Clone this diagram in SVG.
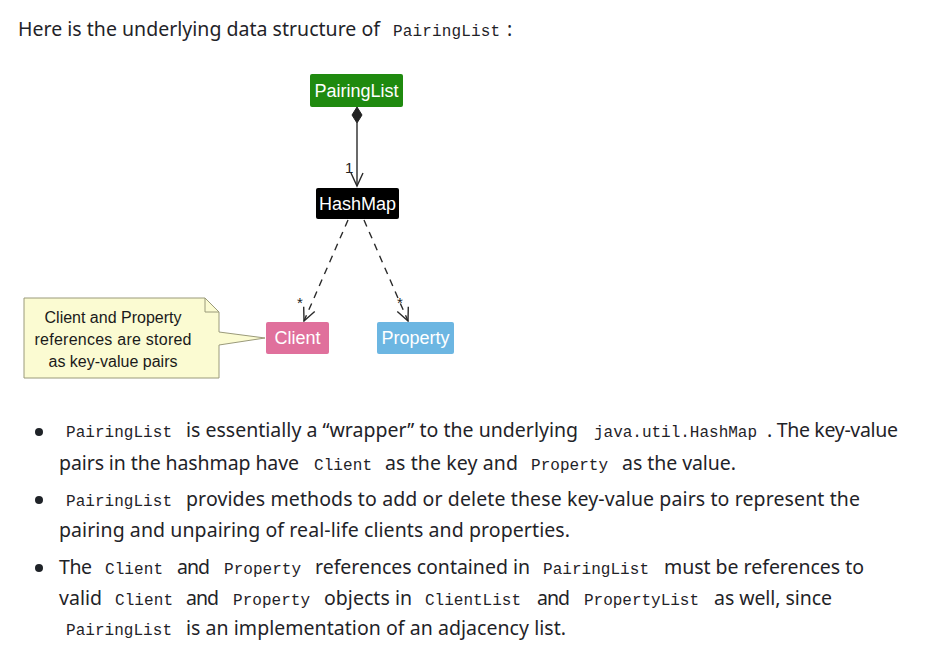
<svg xmlns="http://www.w3.org/2000/svg" width="932" height="658" viewBox="0 0 932 658">
<style>
.t{font-family:"Noto Sans","Open Sans",sans-serif;font-size:19.5px;fill:#1f2328}
.m{font-family:"Liberation Mono","DejaVu Sans Mono",monospace;font-size:16px;fill:#1f2328}
.nl{font-family:"Liberation Sans",Arial,sans-serif;font-size:18px;fill:#ffffff;text-anchor:middle}
.nt{font-family:"Liberation Sans",Arial,sans-serif;font-size:16px;fill:#1a1a1a;text-anchor:middle}
.lbl{font-family:"Liberation Sans",Arial,sans-serif;font-size:15px;fill:#222222}
.ln{stroke:#2a2a2a;stroke-width:1.4;fill:none}
.dash{stroke-dasharray:7 6}
</style>
<rect width="932" height="658" fill="#ffffff"/>
<g id="intro">
<text class="t" x="18" y="36" textLength="362">Here is the underlying data structure of</text>
<text class="m" x="393" y="36" textLength="107">PairingList</text>
<text class="t" x="507" y="36">:</text>
</g>
<g id="connectors">
<path class="ln" d="M357,123 L357,186"/>
<path d="M357,107 L362,115 L357,123 L352,115 Z" fill="#222" stroke="#222" stroke-width="1"/>
<path class="ln" d="M351,173 L357,186 L363,173"/>
<text class="lbl" x="345" y="173">1</text>
<path class="ln dash" d="M348,220 L304,321"/>
<path class="ln" d="M314.7,311.5 L304,321 L303.7,306.7"/>
<text class="lbl" x="297" y="308" font-size="16">*</text>
<path class="ln dash" d="M364,220 L408,321"/>
<path class="ln" d="M408.3,306.7 L408,321 L397.3,311.5"/>
<text class="lbl" x="397" y="308" font-size="16">*</text>
</g>
<g id="PairingList">
<rect x="310" y="74" width="93" height="33" rx="2" fill="#1f8a0f"/>
<text class="nl" x="356.5" y="97">PairingList</text>
</g>
<g id="HashMap">
<rect x="316" y="188" width="83" height="31" rx="2" fill="#000000"/>
<text class="nl" x="357.5" y="210">HashMap</text>
</g>
<g id="Client">
<rect x="266" y="322" width="63" height="32" rx="2" fill="#e0709c"/>
<text class="nl" x="297.5" y="344">Client</text>
</g>
<g id="Property">
<rect x="377" y="322" width="77" height="32" rx="2" fill="#6cb6e2"/>
<text class="nl" x="415.5" y="344">Property</text>
</g>
<g id="note">
<path d="M24,298 L205,298 L219,312 L219,332 L265,338 L219,345 L219,378 L24,378 Z" fill="#fbfbd2" stroke="#9a9a7a" stroke-width="1"/>
<path d="M205,298 L205,312 L219,312" fill="none" stroke="#9a9a7a" stroke-width="1"/>
<text class="nt" x="113" y="323">Client and Property</text>
<text class="nt" x="113" y="345" textLength="157">references are stored</text>
<text class="nt" x="113" y="367">as key-value pairs</text>
</g>
<g id="bullets">
<circle cx="39" cy="432" r="4" fill="#1f2328"/>
<circle cx="39" cy="500" r="4" fill="#1f2328"/>
<circle cx="39" cy="568" r="4" fill="#1f2328"/>
<text class="m" x="66" y="437" textLength="106">PairingList</text>
<text class="t" x="186" y="437" textLength="392">is essentially a “wrapper” to the underlying</text>
<text class="m" x="594" y="437" textLength="163">java.util.HashMap</text>
<text class="t" x="767" y="437" textLength="131">. The key-value</text>
<text class="t" x="59" y="470" textLength="240">pairs in the hashmap have</text>
<text class="m" x="314" y="470" textLength="58">Client</text>
<text class="t" x="385" y="470" textLength="133">as the key and</text>
<text class="m" x="531" y="470" textLength="77">Property</text>
<text class="t" x="622" y="470" textLength="114">as the value.</text>
<text class="m" x="66" y="506" textLength="106">PairingList</text>
<text class="t" x="186" y="506" textLength="674">provides methods to add or delete these key-value pairs to represent the</text>
<text class="t" x="59" y="537" textLength="511">pairing and unpairing of real-life clients and properties.</text>
<text class="t" x="59" y="574" textLength="33">The</text>
<text class="m" x="105" y="574" textLength="58">Client</text>
<text class="t" x="177" y="574" textLength="33">and</text>
<text class="m" x="224" y="574" textLength="77">Property</text>
<text class="t" x="315" y="574" textLength="215">references contained in</text>
<text class="m" x="543" y="574" textLength="106">PairingList</text>
<text class="t" x="664" y="574" textLength="200">must be references to</text>
<text class="t" x="59" y="605" textLength="43">valid</text>
<text class="m" x="115" y="605" textLength="58">Client</text>
<text class="t" x="186" y="605" textLength="33">and</text>
<text class="m" x="233" y="605" textLength="77">Property</text>
<text class="t" x="324" y="605" textLength="88">objects in</text>
<text class="m" x="425" y="605" textLength="96">ClientList</text>
<text class="t" x="537" y="605" textLength="33">and</text>
<text class="m" x="584" y="605" textLength="115">PropertyList</text>
<text class="t" x="714" y="605" textLength="118">as well, since</text>
<text class="m" x="66" y="635" textLength="106">PairingList</text>
<text class="t" x="186" y="635" textLength="380">is an implementation of an adjacency list.</text>
</g>
</svg>
